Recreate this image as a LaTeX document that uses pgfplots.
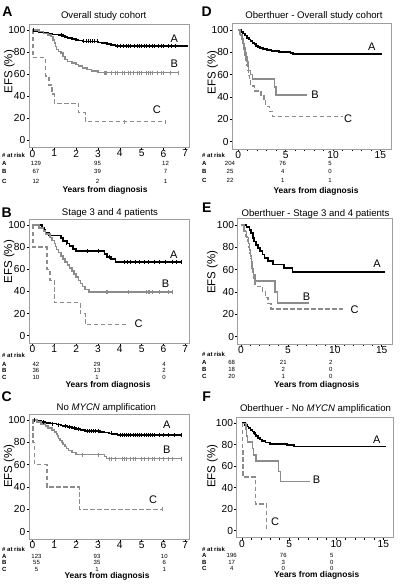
\documentclass[border=0pt]{standalone}
\usepackage{fontspec}
\setmainfont{Liberation Sans}
\usepackage{pgfplots}
\pgfplotsset{compat=1.18}
\definecolor{kmgray}{gray}{0.55}
\definecolor{boxgray}{gray}{0.62}
\newcommand{\tk}{\fontsize{10.2}{10.2}\selectfont}
\newcommand{\rf}{\fontsize{6}{6}\selectfont}
\newcommand{\xl}{\fontsize{8.4}{8.4}\selectfont\bfseries}
\newcommand{\ttl}{\fontsize{9.6}{9.6}\selectfont}
\newcommand{\pl}{\fontsize{14}{14}\selectfont\bfseries}
\newcommand{\cl}{\fontsize{11}{11}\selectfont}
\newcommand{\yl}{\fontsize{11.5}{11.5}\selectfont}
\pgfplotsset{
  km/.style={
    scale only axis, anchor=south west, clip=false,
    axis line style={boxgray, line width=0.8pt},
    ymin=-6.5, ymax=105.5, ytick={0,20,40,60,80,100},
    tick pos=left, tick align=outside,
    major tick length=2.5pt, minor tick length=2pt,
    tick style={black, line width=0.6pt},
    ticklabel style={font=\tk},
    /pgf/number format/assume math mode=true,
    yticklabel style={inner sep=1pt},
    xticklabel style={inner sep=0.5pt, yshift=0.5pt},
  },
  kmleft/.style={km, xmin=-0.16, xmax=7.17, xtick={0,...,7}},
  kmright/.style={km, xtick={0,5,10,15}, minor x tick num=4},
  la/.style={black, line width=1.7pt, const plot, mark=none},
  lb/.style={kmgray, line width=1.5pt, const plot, mark=none},
  lc/.style={kmgray, line width=1.4pt, const plot, mark=none, dash pattern=on 4.5pt off 2.5pt},
  ca/.style={black, only marks, mark=|, mark size=2pt, mark options={line width=0.6pt, solid}},
  cb/.style={kmgray, only marks, mark=|, mark size=2pt, mark options={line width=0.6pt, solid}},
}
\begin{document}
\begin{tikzpicture}
\useasboundingbox (0pt,0pt) rectangle (400pt,-588pt);
% ================= Panel A =================
\begin{axis}[kmleft, at={(29pt,-147.2pt)}, width=160pt, height=123.2pt]
\addplot[la] coordinates {(0,100)(0.1,99.2)(0.3,98.4)(0.5,97.6)(0.7,96.8)(0.9,96.0)(1.2,95.2)(1.4,94.4)(1.5,93.6)(1.6,92.8)(1.8,92.0)(2.0,91.2)(2.1,90.4)(2.3,89.6)(3.0,88.8)(3.2,88.0)(3.4,87.2)(3.6,86.4)(3.8,85.6)(7.12,85.6)};
\addplot[ca] coordinates {(0.05,100)(1.3,95.2)(2.35,89.6)(2.45,89.6)(2.55,89.6)(2.65,89.6)(2.75,89.6)(2.85,89.6)(2.95,89.6)(3.9,85.6)(4.0,85.6)(4.15,85.6)(4.3,85.6)(4.4,85.6)(4.5,85.6)(4.65,85.6)(4.8,85.6)(4.9,85.6)(5.0,85.6)(5.1,85.6)(5.2,85.6)(5.35,85.6)(5.5,85.6)(5.6,85.6)(5.75,85.6)(5.9,85.6)(6.0,85.6)(6.2,85.6)(6.35,85.6)(6.55,85.6)};
\addplot[lb] coordinates {(0,100)(0.3,98.5)(0.5,97.0)(0.7,95.5)(0.85,94.0)(0.95,91.0)(1.0,88.1)(1.05,85.1)(1.1,82.1)(1.2,80.6)(1.3,79.1)(1.4,76.1)(1.5,73.1)(1.6,71.6)(1.8,70.1)(2.0,68.6)(2.1,67.2)(2.3,65.7)(2.5,64.2)(2.7,62.7)(3.0,61.2)(6.7,61.2)};
\addplot[cb] coordinates {(3.3,61.2)(3.35,61.2)(3.4,61.2)(3.6,61.2)(3.8,61.2)(3.9,61.2)(4.1,61.2)(4.2,61.2)(4.4,61.2)(4.5,61.2)(4.6,61.2)(4.8,61.2)(4.9,61.2)(5.0,61.2)(5.2,61.2)(5.3,61.2)(5.4,61.2)(5.5,61.2)(5.7,61.2)(5.9,61.2)(6.0,61.2)(6.3,61.2)(6.7,61.2)};
\addplot[lc] coordinates {(0,100)(0.02,75)(0.6,58.3)(0.75,50)(0.9,41.7)(1.0,33.3)(2.12,25)(2.42,16.7)(6.08,16.7)};
\addplot[cb] coordinates {(4.2,16.7)(6.08,16.7)};
\node[font=\cl] at (6.5,92.5) {A};
\node[font=\cl] at (6.5,69.7) {B};
\node[font=\cl] at (5.7,27.3) {C};
\end{axis}
% ================= Panel B =================
\begin{axis}[kmleft, at={(29pt,-342.9pt)}, width=160pt, height=124pt]
\addplot[la] coordinates {(0,100)(0.45,97.6)(0.55,95.2)(0.6,92.9)(0.75,90.5)(1.3,88.1)(1.4,85.7)(1.6,83.3)(1.7,81.0)(1.85,78.6)(2.0,76.2)(3.3,73.8)(3.4,71.4)(3.6,69.0)(3.8,66.7)(6.8,66.7)};
\addplot[ca] coordinates {(1.55,83.3)(2.5,76.2)(3.0,76.2)(3.5,71.4)(4.2,66.7)(4.35,66.7)(4.5,66.7)(4.7,66.7)(4.9,66.7)(5.1,66.7)(5.3,66.7)(5.6,66.7)(5.8,66.7)(6.1,66.7)(6.4,66.7)(6.6,66.7)(6.8,66.7)};
\addplot[lb] coordinates {(0,100)(0.3,97.2)(0.5,94.4)(0.6,91.7)(0.8,88.9)(0.9,86.1)(1.0,83.3)(1.05,80.6)(1.1,77.8)(1.2,75.0)(1.3,72.2)(1.4,69.4)(1.5,66.7)(1.6,63.9)(1.7,61.1)(1.8,58.3)(1.9,55.6)(2.0,52.8)(2.1,50.0)(2.2,47.2)(2.3,44.4)(2.4,41.7)(2.6,39.4)(6.4,39.4)};
\addplot[cb] coordinates {(3.4,39.4)(3.45,39.4)(4.4,39.4)(5.2,39.4)(5.3,39.4)(5.35,39.4)(5.5,39.4)(5.8,39.4)(6.2,39.4)(6.4,39.4)};
\addplot[lc] coordinates {(0,100)(0.02,80)(0.66,60)(0.8,50)(1.0,30)(2.19,20)(2.42,10)(4.3,10)};
\node[font=\cl] at (6.47,72.9) {A};
\node[font=\cl] at (6.09,47.3) {B};
\node[font=\cl] at (4.86,11.2) {C};
\end{axis}
% ================= Panel C =================
\begin{axis}[kmleft, at={(29pt,-539pt)}, width=160pt, height=125.1pt]
\addplot[la] coordinates {(0,100)(0.2,99.2)(0.4,98.4)(0.6,97.6)(0.8,96.8)(1.1,96.0)(1.3,95.2)(1.4,94.4)(1.6,93.6)(1.8,92.8)(2.0,92.0)(2.2,91.2)(2.4,90.4)(3.1,89.6)(3.3,88.8)(3.5,88.0)(3.7,87.2)(3.9,86.4)(6.8,86.4)};
\addplot[ca] coordinates {(0.1,100)(0.5,98.4)(0.9,96.8)(1.2,96.0)(1.5,94.4)(1.7,93.6)(1.9,92.8)(2.1,92.0)(2.5,90.4)(2.6,90.4)(2.7,90.4)(2.8,90.4)(2.9,90.4)(3.0,90.4)(3.6,88.0)(4.0,86.4)(4.1,86.4)(4.2,86.4)(4.3,86.4)(4.4,86.4)(4.5,86.4)(4.6,86.4)(4.7,86.4)(4.8,86.4)(4.9,86.4)(5.0,86.4)(5.1,86.4)(5.2,86.4)(5.3,86.4)(5.4,86.4)(5.5,86.4)(5.6,86.4)(5.8,86.4)(6.0,86.4)(6.2,86.4)(6.5,86.4)(6.8,86.4)};
\addplot[lb] coordinates {(0,100)(0.2,98.2)(0.4,96.4)(0.6,94.5)(0.7,92.7)(0.9,90.9)(1.0,89.1)(1.1,87.3)(1.15,85.5)(1.2,83.6)(1.25,81.8)(1.35,80.0)(1.4,78.2)(1.5,76.4)(1.55,74.5)(1.65,72.7)(1.8,70.9)(2.0,69.1)(3.3,67.3)(3.4,65.5)(6.8,65.5)};
\addplot[cb] coordinates {(2.3,69.1)(3.0,69.1)(3.5,65.5)(3.6,65.5)(3.8,65.5)(4.1,65.5)(4.2,65.5)(4.3,65.5)(4.5,65.5)(4.6,65.5)(4.7,65.5)(5.0,65.5)(5.1,65.5)(5.3,65.5)(5.5,65.5)(5.6,65.5)(5.8,65.5)(6.0,65.5)(6.2,65.5)(6.4,65.5)(6.8,65.5)};
\addplot[lc] coordinates {(0,100)(0.03,80)(0.1,60)(0.66,40)(2.15,20)(5.95,20)};
\addplot[cb] coordinates {(5.95,20)};
\node[font=\cl] at (6.15,95.5) {A};
\node[font=\cl] at (6.15,73.1) {B};
\node[font=\cl] at (5.53,28.4) {C};
\end{axis}
% ================= Panel D =================
\begin{axis}[kmright, at={(232.3pt,-149pt)}, width=158.7pt, height=125.1pt, xmin=-0.634, xmax=16.12]
\addplot[la] coordinates {(0,100)(0.3,98.5)(0.5,97)(0.7,95)(0.9,93)(1.1,91.5)(1.3,90)(1.5,88.5)(1.7,87.5)(1.9,86)(2.1,85)(2.3,84)(2.6,83)(3.0,82)(3.5,81)(4.3,80.3)(5.5,79.3)(5.8,78.8)(15.2,78.8)};
\addplot[lb] coordinates {(0,100)(0.2,96)(0.4,92)(0.5,88)(0.6,84)(0.7,80)(0.8,76)(0.9,72)(1.0,68)(1.1,64)(1.3,60)(1.5,56)(3.84,49)(4.0,42)(7.3,42)};
\addplot[lc] coordinates {(0,100)(0.2,95.5)(0.4,90.9)(0.5,86.4)(0.6,81.8)(0.7,77.3)(0.8,72.7)(0.9,68.2)(1.0,63.6)(1.1,59.1)(1.2,54.5)(1.3,50)(1.7,45.5)(2.4,40.9)(2.7,36.4)(2.9,31.8)(3.3,27.3)(3.6,22.7)(11.0,22.7)};
\node[font=\cl] at (14.1,85) {A};
\node[font=\cl] at (8.1,41.8) {B};
\node[font=\cl] at (11.6,21) {C};
\end{axis}
% ================= Panel E =================
\begin{axis}[kmright, at={(237.7pt,-344pt)}, width=155pt, height=125.1pt, xmin=-0.35, xmax=16.17]
\addplot[la] coordinates {(0,100)(0.6,98.5)(0.9,95.6)(1.1,92.6)(1.3,88.2)(1.4,85.3)(1.6,82.4)(1.8,79.4)(2.0,76.5)(2.3,73.5)(2.5,70.6)(2.9,67.6)(3.4,64.7)(4.6,61.8)(5.5,58.1)(15.4,58.1)};
\addplot[lb] coordinates {(0,100)(0.3,94.4)(0.6,88.9)(0.8,83.3)(0.9,77.8)(1.0,72.2)(1.1,66.7)(1.2,61.1)(1.35,55.6)(1.5,50)(3.62,40)(3.87,30)(7.2,30)};
\addplot[lc] coordinates {(0,100)(0.3,95)(0.5,90)(0.7,85)(0.8,80)(0.9,75)(1.0,70)(1.1,65)(1.2,60)(1.3,55)(1.4,50)(1.5,45)(2.3,40)(2.6,35)(2.9,30)(3.2,25)(10.9,25)};
\node[font=\cl] at (14.5,65.7) {A};
\node[font=\cl] at (7.0,35.8) {B};
\node[font=\cl] at (12.1,24.5) {C};
\end{axis}
% ================= Panel F =================
\begin{axis}[kmright, at={(236.7pt,-537.7pt)}, width=156.6pt, height=120.3pt, xmin=-0.563, xmax=16.06]
\addplot[la] coordinates {(0,100)(0.3,98.5)(0.5,97)(0.7,95.5)(0.9,94)(1.1,92.5)(1.3,91)(1.4,89.5)(1.5,88)(1.7,86.5)(1.9,85)(2.1,83.5)(2.5,82)(3.0,81)(4.8,79.8)(5.5,78.3)(15.3,78.3)};
\addplot[lb] coordinates {(0,100)(0.4,94.1)(0.5,88.2)(0.6,82.4)(1.1,76.5)(1.2,70.6)(1.5,64.7)(3.9,55)(4.1,46)(7.2,46)};
\addplot[lc] coordinates {(0,100)(0.05,75)(0.1,50)(1.45,25)(2.62,0)};
\node[font=\cl] at (14.3,84.5) {A};
\node[font=\cl] at (7.9,47.2) {B};
\node[font=\cl] at (3.5,8.4) {C};
\end{axis}
% ================= Texts =================
\node[font=\pl] at (7.5pt,-12pt) {A};
\node[font=\pl] at (206.7pt,-11.7pt) {D};
\node[font=\pl] at (6.7pt,-213pt) {B};
\node[font=\pl] at (206.7pt,-208pt) {E};
\node[font=\pl] at (6.7pt,-397pt) {C};
\node[font=\pl] at (206.7pt,-396.7pt) {F};
\node[font=\ttl] at (103.7pt,-16pt) {Overall study cohort};
\node[font=\ttl] at (314pt,-16pt) {Oberthuer - Overall study cohort};
\node[font=\ttl] at (110pt,-213.3pt) {Stage 3 and 4 patients};
\node[font=\ttl] at (315.5pt,-214pt) {Oberthuer - Stage 3 and 4 patients};
\node[font=\ttl] at (106.3pt,-407.7pt) {No \textit{MYCN} amplification};
\node[font=\ttl] at (315.5pt,-409pt) {Oberthuer - No \textit{MYCN} amplification};
\node[font=\yl, rotate=90] at (9.3pt,-71.7pt) {EFS (\%)};
\node[font=\yl, rotate=90] at (9.2pt,-261.7pt) {EFS (\%)};
\node[font=\yl, rotate=90] at (9.2pt,-466pt) {EFS (\%)};
\node[font=\yl, rotate=90] at (212.7pt,-72.5pt) {EFS (\%)};
\node[font=\yl, rotate=90] at (212.5pt,-272pt) {EFS (\%)};
\node[font=\yl, rotate=90] at (212.5pt,-466pt) {EFS (\%)};
\node[font=\xl] at (105pt,-190.7pt) {Years from diagnosis};
\node[font=\xl] at (108pt,-385pt) {Years from diagnosis};
\node[font=\xl] at (107pt,-576.7pt) {Years from diagnosis};
\node[font=\xl] at (316pt,-191pt) {Years from diagnosis};
\node[font=\xl] at (316.7pt,-385pt) {Years from diagnosis};
\node[font=\xl] at (316.7pt,-575.7pt) {Years from diagnosis};
\begin{scope}[every node/.style={font=\rf, inner sep=0.5pt}]
% panel A
\node[anchor=west,font=\rf\bfseries] at (1.5pt,-155pt) {\# at risk};
\node[anchor=west,font=\rf\bfseries] at (1.5pt,-163.3pt) {A};
\node[anchor=west,font=\rf\bfseries] at (1.5pt,-171.7pt) {B};
\node[anchor=west,font=\rf\bfseries] at (1.5pt,-181pt) {C};
\node at (36pt,-163.3pt) {129}; \node at (97.5pt,-163.3pt) {95}; \node at (165.5pt,-163.3pt) {12};
\node at (36pt,-171.7pt) {67}; \node at (97.5pt,-171.7pt) {39}; \node at (165.5pt,-171.7pt) {7};
\node at (36pt,-181pt) {12}; \node at (97.5pt,-181pt) {2}; \node at (165.5pt,-181pt) {1};
% panel B
\node[anchor=west,font=\rf\bfseries] at (1.5pt,-355pt) {\# at risk};
\node[anchor=west,font=\rf\bfseries] at (1.5pt,-364pt) {A};
\node[anchor=west,font=\rf\bfseries] at (1.5pt,-370.7pt) {B};
\node[anchor=west,font=\rf\bfseries] at (1.5pt,-377.7pt) {C};
\node at (36pt,-364pt) {42}; \node at (97pt,-364pt) {29}; \node at (164pt,-364pt) {4};
\node at (36pt,-370.7pt) {36}; \node at (97pt,-370.7pt) {13}; \node at (164pt,-370.7pt) {2};
\node at (36pt,-377.7pt) {10}; \node at (97pt,-377.7pt) {1}; \node at (164pt,-377.7pt) {0};
% panel C
\node[anchor=west,font=\rf\bfseries] at (1.5pt,-549.3pt) {\# at risk};
\node[anchor=west,font=\rf\bfseries] at (1.5pt,-556pt) {A};
\node[anchor=west,font=\rf\bfseries] at (1.5pt,-562.3pt) {B};
\node[anchor=west,font=\rf\bfseries] at (1.5pt,-569pt) {C};
\node at (36.5pt,-556pt) {123}; \node at (97pt,-556pt) {93}; \node at (164.3pt,-556pt) {10};
\node at (36.5pt,-562.3pt) {55}; \node at (97pt,-562.3pt) {35}; \node at (164.3pt,-562.3pt) {6};
\node at (36.5pt,-569pt) {5}; \node at (97pt,-569pt) {1}; \node at (164.3pt,-569pt) {1};
% panel D
\node[anchor=west,font=\rf\bfseries] at (201.5pt,-155pt) {\# at risk};
\node[anchor=west,font=\rf\bfseries] at (201.5pt,-163.3pt) {A};
\node[anchor=west,font=\rf\bfseries] at (201.5pt,-171.7pt) {B};
\node[anchor=west,font=\rf\bfseries] at (201.5pt,-180pt) {C};
\node at (230pt,-163.3pt) {204}; \node at (282.7pt,-163.3pt) {76}; \node at (330pt,-163.3pt) {5};
\node at (230pt,-171.7pt) {25}; \node at (282.7pt,-171.7pt) {4}; \node at (330pt,-171.7pt) {0};
\node at (230pt,-180pt) {22}; \node at (282.7pt,-180pt) {1}; \node at (330pt,-180pt) {1};
% panel E
\node[anchor=west,font=\rf\bfseries] at (201.5pt,-354.3pt) {\# at risk};
\node[anchor=west,font=\rf\bfseries] at (201.5pt,-362.3pt) {A};
\node[anchor=west,font=\rf\bfseries] at (201.5pt,-369.3pt) {B};
\node[anchor=west,font=\rf\bfseries] at (201.5pt,-376.7pt) {C};
\node at (231.7pt,-362.3pt) {68}; \node at (283.3pt,-362.3pt) {21}; \node at (330.7pt,-362.3pt) {2};
\node at (231.7pt,-369.3pt) {18}; \node at (283.3pt,-369.3pt) {2}; \node at (330.7pt,-369.3pt) {0};
\node at (231.7pt,-376.7pt) {20}; \node at (283.3pt,-376.7pt) {1}; \node at (330.7pt,-376.7pt) {0};
% panel F
\node[anchor=west,font=\rf\bfseries] at (201.5pt,-549.3pt) {\# at risk};
\node[anchor=west,font=\rf\bfseries] at (201.5pt,-555.7pt) {A};
\node[anchor=west,font=\rf\bfseries] at (201.5pt,-562.3pt) {B};
\node[anchor=west,font=\rf\bfseries] at (201.5pt,-568.3pt) {C};
\node at (231.7pt,-555.7pt) {196}; \node at (283.3pt,-555.7pt) {76}; \node at (331.7pt,-555.7pt) {5};
\node at (231.7pt,-562.3pt) {17}; \node at (283.3pt,-562.3pt) {3}; \node at (331.7pt,-562.3pt) {0};
\node at (231.7pt,-568.3pt) {4}; \node at (283.3pt,-568.3pt) {0}; \node at (331.7pt,-568.3pt) {0};
\end{scope}
\end{tikzpicture}
\end{document}
